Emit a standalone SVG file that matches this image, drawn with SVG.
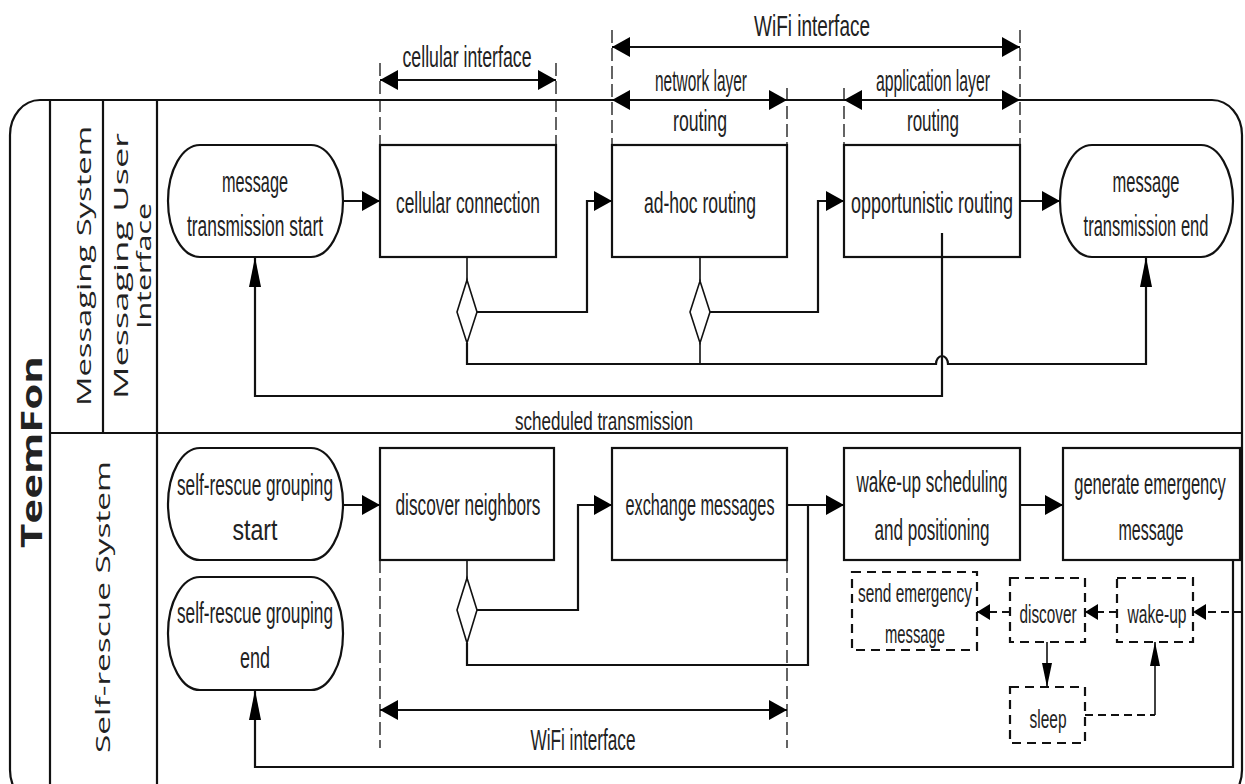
<svg xmlns="http://www.w3.org/2000/svg" width="1245" height="784" viewBox="0 0 1245 784">
<style>
.ln{fill:none;stroke:#111;stroke-width:2.2}
.thin{fill:none;stroke:#111;stroke-width:1.6}
.guide{fill:none;stroke:#111;stroke-width:1.3;stroke-dasharray:13 5}
.dash{fill:none;stroke:#111;stroke-width:2.2;stroke-dasharray:8 5}
.box{fill:#fff;stroke:#111;stroke-width:2.2}
.dbox{fill:#fff;stroke:#111;stroke-width:2.2;stroke-dasharray:9 6}
.t{font-family:"Liberation Sans",Arial,sans-serif;font-size:29px;fill:#222;text-anchor:middle}
.ts{font-family:"Liberation Sans",Arial,sans-serif;font-size:25px;fill:#222;text-anchor:middle}
.lane{font-family:"Open Sans","DejaVu Sans",sans-serif;font-size:20px;fill:#222;text-anchor:middle}
</style>
<defs>
<marker id="ah" markerUnits="userSpaceOnUse" markerWidth="18" markerHeight="20" refX="18" refY="10" orient="auto-start-reverse"><path d="M0,0 L18,10 L0,20 z" fill="#000"/></marker>
<marker id="av" markerUnits="userSpaceOnUse" markerWidth="30" markerHeight="12" refX="30" refY="6" orient="auto"><path d="M0,0 L30,6 L0,12 z" fill="#000"/></marker>
<marker id="ahs" markerUnits="userSpaceOnUse" markerWidth="13" markerHeight="16" refX="13" refY="8" orient="auto"><path d="M0,0 L13,8 L0,16 z" fill="#000"/></marker>
<marker id="avs" markerUnits="userSpaceOnUse" markerWidth="24" markerHeight="10" refX="24" refY="5" orient="auto"><path d="M0,0 L24,5 L0,10 z" fill="#000"/></marker>
</defs>
<rect width="1245" height="784" fill="#fff"/>

<g id="frame">
<rect x="10" y="100" width="1232" height="705" rx="30" ry="35" class="ln"/>
<path d="M50,100 V784 M103,100 V433 M157,100 V784 M50,433 H1242" class="ln"/>
<text class="lane" style="font-weight:bold;font-size:28px" transform="translate(42,452) rotate(-90)" textLength="192" lengthAdjust="spacingAndGlyphs">TeemFon</text>
<text class="lane" transform="translate(91,266) rotate(-90)" textLength="280" lengthAdjust="spacingAndGlyphs">Messaging System</text>
<text class="lane" transform="translate(128,266) rotate(-90)" textLength="266" lengthAdjust="spacingAndGlyphs">Messaging User</text>
<text class="lane" transform="translate(151,266) rotate(-90)" textLength="126" lengthAdjust="spacingAndGlyphs">Interface</text>
<text class="lane" transform="translate(110,607) rotate(-90)" textLength="292" lengthAdjust="spacingAndGlyphs">Self-rescue System</text>
</g>

<g id="guides">
<path d="M380,63 V145 M556,63 V145 M612,30 V145 M1020,30 V145 M787,88 V145 M844,88 V145 M380,560 V748 M787,560 V748" class="guide"/>
<path d="M612,47 H1020" class="ln" marker-start="url(#ah)" marker-end="url(#ah)"/>
<path d="M380,80 H556" class="ln" marker-start="url(#ah)" marker-end="url(#ah)"/>
<path d="M612,100 H787" class="ln" marker-start="url(#ah)" marker-end="url(#ah)"/>
<path d="M844,100 H1020" class="ln" marker-start="url(#ah)" marker-end="url(#ah)"/>
<path d="M380,710 H787" class="ln" marker-start="url(#ah)" marker-end="url(#ah)"/>
<text class="t" x="812" y="36" textLength="116" lengthAdjust="spacingAndGlyphs">WiFi interface</text>
<text class="t" x="467" y="67" textLength="129" lengthAdjust="spacingAndGlyphs">cellular interface</text>
<text class="t" x="701" y="91" textLength="92" lengthAdjust="spacingAndGlyphs">network layer</text>
<text class="t" x="700" y="131" textLength="54" lengthAdjust="spacingAndGlyphs">routing</text>
<text class="t" x="933" y="91" textLength="114" lengthAdjust="spacingAndGlyphs">application layer</text>
<text class="t" x="933" y="131" textLength="52" lengthAdjust="spacingAndGlyphs">routing</text>
<text class="t" x="583" y="750" textLength="105" lengthAdjust="spacingAndGlyphs">WiFi interface</text>
</g>

<g id="n-msg-start">
<rect x="168" y="145" width="175" height="112" rx="32" ry="56" class="box"/>
<text class="t" x="255" y="192" textLength="66" lengthAdjust="spacingAndGlyphs">message</text>
<text class="t" x="255" y="236" textLength="136" lengthAdjust="spacingAndGlyphs">transmission start</text>
</g>
<g id="n-cellular">
<rect x="380" y="145" width="176" height="112" class="box"/>
<text class="t" x="468" y="213" textLength="144" lengthAdjust="spacingAndGlyphs">cellular connection</text>
</g>
<g id="n-adhoc">
<rect x="612" y="145" width="175" height="112" class="box"/>
<text class="t" x="700" y="213" textLength="112" lengthAdjust="spacingAndGlyphs">ad-hoc routing</text>
</g>
<g id="n-opp">
<rect x="844" y="145" width="176" height="112" class="box"/>
<text class="t" x="932" y="213" textLength="162" lengthAdjust="spacingAndGlyphs">opportunistic routing</text>
</g>
<g id="n-msg-end">
<rect x="1060" y="145" width="173" height="112" rx="32" ry="56" class="box"/>
<text class="t" x="1146" y="192" textLength="67" lengthAdjust="spacingAndGlyphs">message</text>
<text class="t" transform="translate(1146,236) scale(0.57,1)">transmission end</text>
</g>

<g id="n-sr-start">
<rect x="168" y="448" width="175" height="112" rx="32" ry="56" class="box"/>
<text class="t" x="255" y="495" textLength="156" lengthAdjust="spacingAndGlyphs">self-rescue grouping</text>
<text class="t" x="255" y="540" textLength="45" lengthAdjust="spacingAndGlyphs">start</text>
</g>
<g id="n-sr-end">
<rect x="168" y="577" width="175" height="113" rx="32" ry="56" class="box"/>
<text class="t" x="255" y="623" textLength="156" lengthAdjust="spacingAndGlyphs">self-rescue grouping</text>
<text class="t" x="255" y="668" textLength="30" lengthAdjust="spacingAndGlyphs">end</text>
</g>
<g id="n-discover-nb">
<rect x="380" y="448" width="174" height="112" class="box"/>
<text class="t" x="468" y="515" textLength="145" lengthAdjust="spacingAndGlyphs">discover neighbors</text>
</g>
<g id="n-exchange">
<rect x="612" y="448" width="175" height="112" class="box"/>
<text class="t" x="700" y="515" textLength="149" lengthAdjust="spacingAndGlyphs">exchange messages</text>
</g>
<g id="n-wakeup-sched">
<rect x="844" y="448" width="176" height="112" class="box"/>
<text class="t" transform="translate(932,492) scale(0.59,1)">wake-up scheduling</text>
<text class="t" x="932" y="540" textLength="115" lengthAdjust="spacingAndGlyphs">and positioning</text>
</g>
<g id="n-generate">
<rect x="1063" y="448" width="177" height="112" class="box"/>
<text class="t" transform="translate(1150,494) scale(0.57,1)">generate emergency</text>
<text class="t" x="1151" y="540" textLength="65" lengthAdjust="spacingAndGlyphs">message</text>
</g>

<g id="n-send">
<rect x="852" y="572" width="125" height="78" class="dbox"/>
<text class="ts" x="915" y="602" textLength="114" lengthAdjust="spacingAndGlyphs">send emergency</text>
<text class="ts" x="915" y="643" textLength="60" lengthAdjust="spacingAndGlyphs">message</text>
</g>
<g id="n-discover">
<rect x="1010" y="578" width="75" height="64" class="dbox"/>
<text class="ts" x="1048" y="623" textLength="57" lengthAdjust="spacingAndGlyphs">discover</text>
</g>
<g id="n-wakeup">
<rect x="1117" y="578" width="76" height="64" class="dbox"/>
<text class="ts" x="1157" y="623" textLength="59" lengthAdjust="spacingAndGlyphs">wake-up</text>
</g>
<g id="n-sleep">
<rect x="1010" y="687" width="75" height="56" class="dbox"/>
<text class="ts" x="1048" y="728" textLength="37" lengthAdjust="spacingAndGlyphs">sleep</text>
</g>

<g id="connectors">
<path d="M343,201 H380" class="ln" marker-end="url(#ah)"/>
<path d="M467,257 V280 M700,257 V281" class="thin"/>
<path d="M467,280 L477,312 L467,343 L457,312 Z M700,281 L710,312 L700,343 L690,312 Z" fill="#fff" stroke="#111" stroke-width="1.6"/>
<path d="M477,312 H587 V201 H612" class="ln" marker-end="url(#ah)"/>
<path d="M710,312 H818 V201 H844" class="ln" marker-end="url(#ah)"/>
<path d="M467,343 V364 H936 A6,8 0 0 1 948,364 H1146 V257" class="ln" marker-end="url(#av)"/>
<path d="M700,343 V364" class="thin"/>
<path d="M1020,201 H1060" class="ln" marker-end="url(#ah)"/>
<path d="M942,233 V396 H255 V257" class="ln" marker-end="url(#av)"/>
<text class="t" style="font-size:26px" x="604" y="430" textLength="178" lengthAdjust="spacingAndGlyphs">scheduled transmission</text>

<path d="M343,505 H380" class="ln" marker-end="url(#ah)"/>
<path d="M467,560 V578" class="thin"/>
<path d="M467,578 L477,610 L467,643 L457,610 Z" fill="#fff" stroke="#111" stroke-width="1.6"/>
<path d="M477,610 H578 V505 H612" class="ln" marker-end="url(#ah)"/>
<path d="M467,643 V665 H808 V505" class="ln"/>
<path d="M787,505 H844" class="ln" marker-end="url(#ah)"/>
<path d="M1020,505 H1063" class="ln" marker-end="url(#ah)"/>
<path d="M1233,560 V767 H255 V690" class="ln" marker-end="url(#av)"/>

<path d="M1242,612 H1193" class="dash" marker-end="url(#ahs)"/>
<path d="M1117,612 H1085" class="dash" marker-end="url(#ahs)"/>
<path d="M1010,612 H977" class="dash" marker-end="url(#ahs)"/>
<path d="M1047,642 V687" class="thin" marker-end="url(#avs)"/>
<path d="M1085,715 H1155" class="dash"/>
<path d="M1155,715 V642" class="thin" marker-end="url(#avs)"/>
</g>
</svg>
